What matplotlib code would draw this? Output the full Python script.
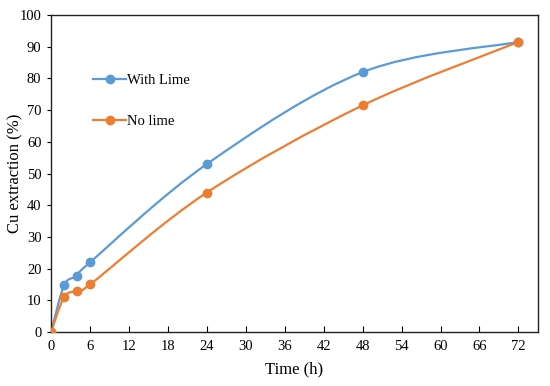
import numpy as np
import matplotlib
matplotlib.use("Agg")
import matplotlib.pyplot as plt
from matplotlib.path import Path
from matplotlib.patches import PathPatch

plt.rcParams['font.family'] = ['Liberation Serif', 'DejaVu Serif']

# data
time_h = [0, 2, 4, 6, 24, 48, 72]
with_lime = [0, 14.7, 17.7, 22.0, 53.0, 82.0, 91.5]
no_lime = [0, 11.0, 13.0, 15.0, 44.0, 71.5, 91.5]
x_ticks = [0, 6, 12, 18, 24, 30, 36, 42, 48, 54, 60, 66, 72]
y_ticks = [0, 10, 20, 30, 40, 50, 60, 70, 80, 90, 100]

blue = '#5B9BD5'
orange = '#ED7D31'


def smooth_path(x, y):
    # excel-like smoothed line: cubic bezier through the points
    pts = np.column_stack([x, y]).astype(float)
    n = len(pts)
    verts = [pts[0]]
    codes = [Path.MOVETO]
    for i in range(n - 1):
        p0 = pts[i - 1] if i > 0 else pts[i]
        p1 = pts[i]
        p2 = pts[i + 1]
        p3 = pts[i + 2] if i + 2 < n else pts[i + 1]
        c1 = p1 + (p2 - p0) / 6.0
        c2 = p2 - (p3 - p1) / 6.0
        verts += [c1, c2, p2]
        codes += [Path.CURVE4] * 3
    return Path(verts, codes)


fig = plt.figure(figsize=(5.5, 3.86), dpi=100)
ax = fig.add_axes([0.093, 0.140, 0.885, 0.821])

for ys, col, lab in [(with_lime, blue, 'With Lime'), (no_lime, orange, 'No lime')]:
    ax.add_patch(PathPatch(smooth_path(time_h, ys), facecolor='none',
                           edgecolor=col, lw=1.6, zorder=2))
    ax.plot(time_h, ys, 'o', color=col, ms=6, zorder=3)
    # proxy for legend
    ax.plot([], [], '-o', color=col, lw=1.6, ms=6, label=lab)

ax.set_xlim(0, 75)
ax.set_ylim(0, 100)
ax.set_xticks(x_ticks)
ax.set_yticks(y_ticks)
ax.tick_params(axis='x', direction='in', length=4, labelsize=10.5, pad=6)
ax.tick_params(axis='y', direction='out', length=3, labelsize=10.5, pad=4)
ax.set_xlabel('Time (h)', fontsize=12, labelpad=6)
ax.set_ylabel('Cu extraction (%)', fontsize=12)
ax.yaxis.set_label_coords(-0.058, 0.5)

for s in ax.spines.values():
    s.set_linewidth(1.0)
    s.set_color('#222222')

ax.legend(loc='upper left', bbox_to_anchor=(0.06, 0.855), frameon=False,
          fontsize=10.5, handlelength=2.2, handletextpad=0.1,
          labelspacing=1.9, numpoints=1)

fig.savefig('out.png', dpi=100)
